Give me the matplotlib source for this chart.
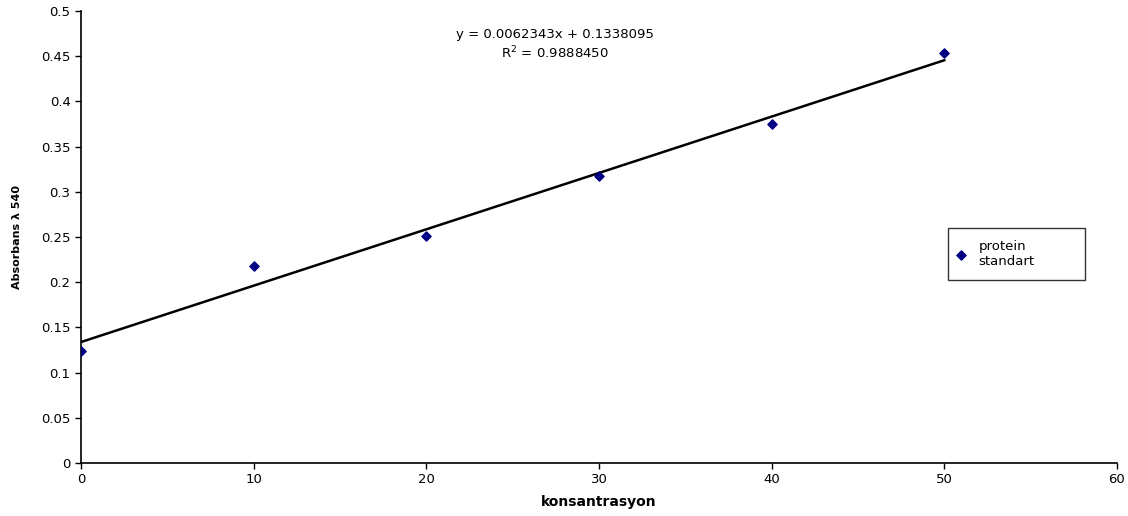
import matplotlib
matplotlib.use("Agg")
import matplotlib.pyplot as plt
import numpy as np

# data
konsantrasyon = [0, 10, 20, 30, 40, 50]
absorbans = [0.124, 0.218, 0.251, 0.317, 0.375, 0.453]
slope = 0.0062343
intercept = 0.1338095
r_squared = 0.9888450

plt.rcParams["font.family"] = ["DejaVu Sans"]

fig = plt.figure(figsize=(11.28, 5.16), dpi=100)
ax = fig.add_axes([0.0718, 0.1027, 0.9184, 0.876])

ax.scatter(konsantrasyon, absorbans, marker="D", s=22, color="#000080",
           zorder=3, label="protein\nstandart")

x_fit = np.array([konsantrasyon[0], konsantrasyon[-1]])
ax.plot(x_fit, slope * x_fit + intercept, color="black", lw=1.8, zorder=2)

ax.set_xlim(0, 60)
ax.set_ylim(0, 0.5)
ax.set_xticks(range(0, 61, 10))
ax.set_yticks(np.arange(0, 0.51, 0.05))
ax.set_yticklabels(["0", "0.05", "0.1", "0.15", "0.2", "0.25", "0.3",
                    "0.35", "0.4", "0.45", "0.5"])
ax.tick_params(labelsize=9.5, length=4, width=1, direction="out")
for side in ("top", "right"):
    ax.spines[side].set_visible(False)
for side in ("left", "bottom"):
    ax.spines[side].set_linewidth(1.2)

ax.set_xlabel("konsantrasyon", fontsize=10, fontweight="bold", labelpad=6)
ax.set_ylabel("Absorbans λ 540", fontsize=8, fontweight="bold", labelpad=14)

ax.text(0.4575, 0.947, f"y = {slope:.7f}x + {intercept:.7f}",
        transform=ax.transAxes, ha="center", va="center", fontsize=9.5)
ax.text(0.4575, 0.907, f"R$^2$ = {r_squared:.7f}",
        transform=ax.transAxes, ha="center", va="center", fontsize=9.5)

leg = ax.legend(loc="upper left", bbox_to_anchor=(0.837, 0.52, 0.132, 0),
                mode="expand", fontsize=9.5, frameon=True, fancybox=False,
                handletextpad=1.2, handlelength=0.2, borderpad=0.9,
                borderaxespad=0, labelspacing=0.2)
leg.get_frame().set_edgecolor("black")
leg.get_frame().set_linewidth(1)

fig.savefig("out.png", dpi=100)
